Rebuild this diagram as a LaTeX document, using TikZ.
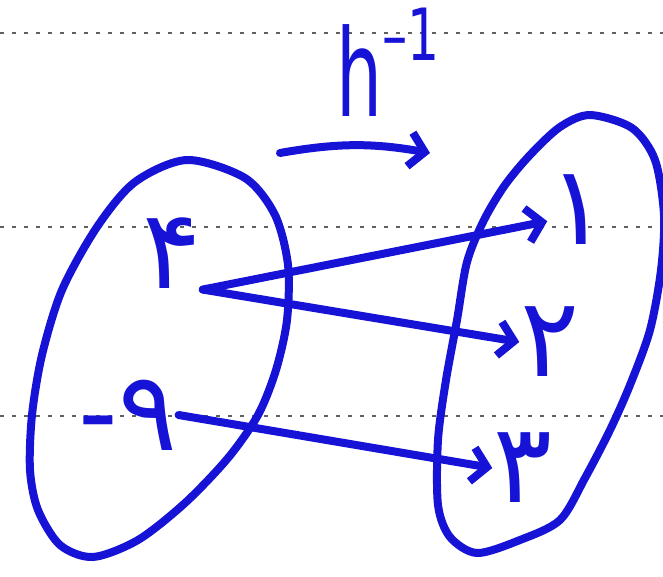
\documentclass[tikz,border=0pt]{standalone}
\usepackage{fontspec}
\usepackage{graphicx}
\newfontfamily\fadigits[Script=Arabic]{DejaVu Sans}
\newfontfamily\penfont{DejaVu Sans}
\definecolor{pen}{RGB}{22,18,214}
\usetikzlibrary{arrows.meta, positioning}

\begin{document}
\begin{tikzpicture}[x=1pt, y=-1pt,
    >={Straight Barb[length=15pt,width=34pt]},
    pen line/.style={draw=pen, line width=8pt, line cap=round, line join=round},
    digit/.style={text=pen, inner sep=1pt, font=\fadigits\fontsize{110}{110}\selectfont},
    ruled/.style={draw=gray!75!black, line width=1.6pt, dash pattern=on 4pt off 8pt}]
		
		\useasboundingbox (0,0) rectangle (663,577);
		
		% notebook lines
		\foreach \y in {33,227,416}
		\draw[ruled] (0,\y) -- (663,\y);
		
		% the two sets
		\draw[pen line] plot[smooth cycle] coordinates {
			(187,160) (245,178) (275,215) (288,265) (287,320) (276,370)
			(258,415) (228,458) (185,503) (138,540) (93,557) (60,545)
			(38,510) (30,470) (32,415) (42,355) (62,290) (97,227) (135,182)};
		\draw[pen line] plot[smooth cycle] coordinates {
			(590,115) (632,128) (655,160) (664,215) (661,270) (650,330)
			(630,385) (610,430) (585,478) (560,520) (520,540) (477,553)
			(450,537) (438,505) (438,440) (446,380) (457,320) (467,262)
			(484,220) (505,185) (530,155) (560,127)};
		
		\node[digit] (l4) at (172,253) {۴};
		\node[digit] (l9) at (128,415) {{\penfont -}۹};
		\node[digit] (r1) at (578,210) {۱};
		\node[digit] (r2) at (550,342) {۲};
		\node[digit] (r3) at (523,468) {۳};
		
		\node[text=pen, anchor=base west, inner sep=0pt, font=\penfont\fontsize{121}{121}\selectfont] (h) at (336,117)
		{\scalebox{0.6}[1]{h}\raisebox{56pt}{\scalebox{0.7}[1]{\fontsize{72}{72}\selectfont –1}}};
		
		\coordinate (hs) at (280,153);
		\coordinate (he) at (430,153);
		\draw[pen line, ->] (hs) to[bend left=10] (he);
		
		\draw[pen line, ->] (l4.south east) -- (r1.200);
		\draw[pen line, ->] (l4.south east) -- (r2.west);
		\draw[pen line, ->] (l9.east) -- (r3.west);
		
\end{tikzpicture}
\end{document}
